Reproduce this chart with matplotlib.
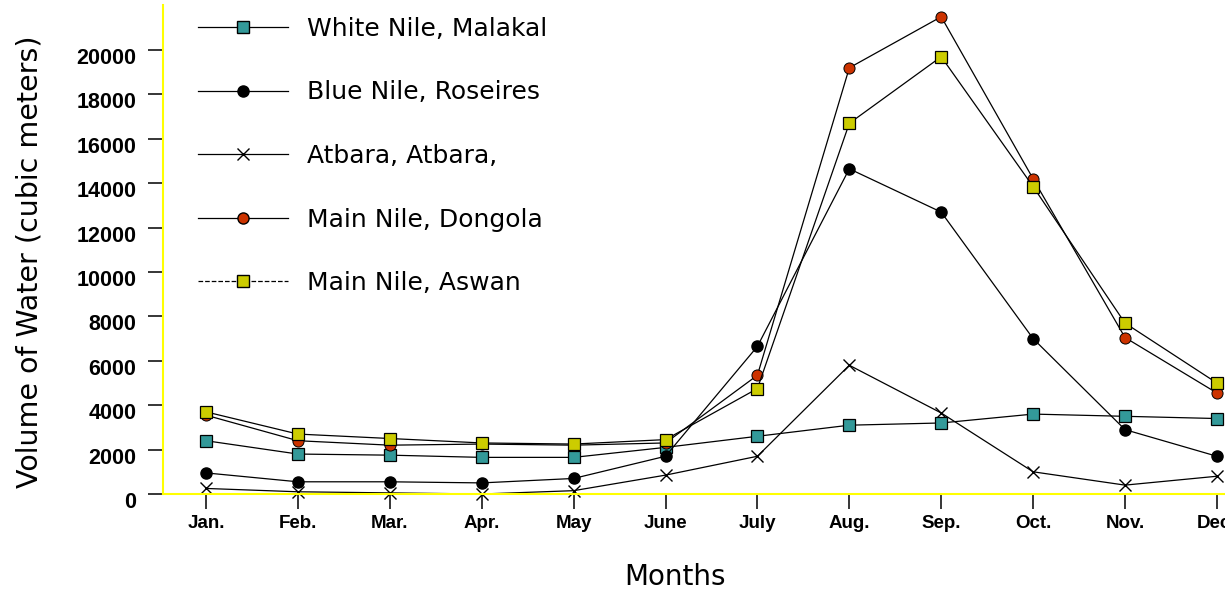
"""
Nile flow by month: White Nile, Blue Nile, Atbara, Main Nile (Dongola, Aswan).
"""

import matplotlib
matplotlib.use("Agg")
import matplotlib.pyplot as plt
import matplotlib.transforms as mtransforms
from matplotlib.lines import Line2D

OUTPUT_FILE = "out.png"

months = ["Jan.", "Feb.", "Mar.", "Apr.", "May", "June",
          "July", "Aug.", "Sep.", "Oct.", "Nov.", "Dec."]

white_nile = [2400, 1800, 1750, 1650, 1650, 2100, 2600, 3100, 3200, 3600, 3500, 3400]
blue_nile = [950, 550, 550, 500, 700, 1700, 6650, 14650, 12700, 7000, 2900, 1700]
atbara = [250, 100, 50, 0, 150, 850, 1700, 5800, 3650, 1000, 400, 800]
dongola = [3550, 2400, 2200, 2250, 2200, 2300, 5350, 19200, 21500, 14200, 7050, 4550]
aswan = [3700, 2700, 2500, 2300, 2250, 2450, 4750, 16700, 19700, 13850, 7700, 5000]

y_ticks = list(range(0, 20001, 2000))

TEAL = "#339999"
RED = "#cc3300"
YELLOW = "#cccc00"
SPINE = "#ffff00"


def main():
    fig = plt.figure(figsize=(12.25, 5.97), dpi=100)
    W, H = 1225, 597
    # оси уходят за правый край, как на оригинале (декабрь обрезан)
    ax = fig.add_axes([163 / W, 103 / H, (W - 163) / W, 489 / H])

    xs = list(range(len(months)))
    line_kw = dict(color="black", lw=0.9, clip_on=False)

    ax.plot(xs, atbara, marker="x", ms=8, mew=1.0, mec="black", **line_kw)
    ax.plot(xs, white_nile, marker="s", ms=8, mfc=TEAL, mec="black", mew=0.9, **line_kw)
    ax.plot(xs, blue_nile, marker="o", ms=8, mfc="black", mec="black", **line_kw)
    ax.plot(xs, dongola, marker="o", ms=8, mfc=RED, mec="black", mew=0.7, **line_kw)
    ax.plot(xs, aswan, marker="s", ms=8, mfc=YELLOW, mec="black", mew=0.9, **line_kw)

    ax.set_xlim(-0.468, -0.468 + (W - 163) / 91.9)
    ax.set_ylim(0, 22030)

    ax.set_xticks(xs)
    ax.set_xticklabels(months, fontfamily="Liberation Sans", fontweight="bold", fontsize=13.5)
    ax.set_yticks(y_ticks)
    ax.set_yticklabels([str(v) for v in y_ticks], fontfamily="Liberation Sans",
                       fontweight="bold", fontsize=15.5)
    ax.tick_params(axis="both", direction="out", length=11, width=1.1, color="black")
    ax.tick_params(axis="y", pad=8)
    ax.tick_params(axis="x", pad=4)

    # подписи по Y чуть ниже делений
    shift = mtransforms.ScaledTranslation(0, -6 / 100, fig.dpi_scale_trans)
    for lbl in ax.get_yticklabels():
        lbl.set_transform(lbl.get_transform() + shift)

    for side in ("top", "right"):
        ax.spines[side].set_visible(False)
    for side in ("left", "bottom"):
        ax.spines[side].set_color(SPINE)
        ax.spines[side].set_linewidth(1.5)

    handles = [
        Line2D([], [], color="black", lw=0.9, marker="s", ms=8, mfc=TEAL, mec="black"),
        Line2D([], [], color="black", lw=0.9, marker="o", ms=8, mfc="black", mec="black"),
        Line2D([], [], color="black", lw=0.9, marker="x", ms=8, mec="black"),
        Line2D([], [], color="black", lw=0.9, marker="o", ms=8, mfc=RED, mec="black"),
        Line2D([], [], color="black", lw=0.9, ls="--", marker="s", ms=8, mfc=YELLOW, mec="black"),
    ]
    labels = ["White Nile, Malakal", "Blue Nile, Roseires", "Atbara, Atbara,",
              "Main Nile, Dongola", "Main Nile, Aswan"]
    fig.legend(handles, labels, loc="upper left",
               bbox_to_anchor=(198 / W, 1 - 17 / H),
               frameon=False, fontsize=18, handlelength=3.6, handletextpad=0.75,
               labelspacing=1.58, borderpad=0, borderaxespad=0)

    fig.text(30 / W, 1 - 262 / H, "Volume of Water (cubic meters)", rotation=90,
             ha="center", va="center", fontsize=20.5)
    fig.text(675 / W, 1 - 577 / H, "Months", ha="center", va="center", fontsize=20)

    fig.savefig(OUTPUT_FILE, dpi=100)


if __name__ == "__main__":
    main()
